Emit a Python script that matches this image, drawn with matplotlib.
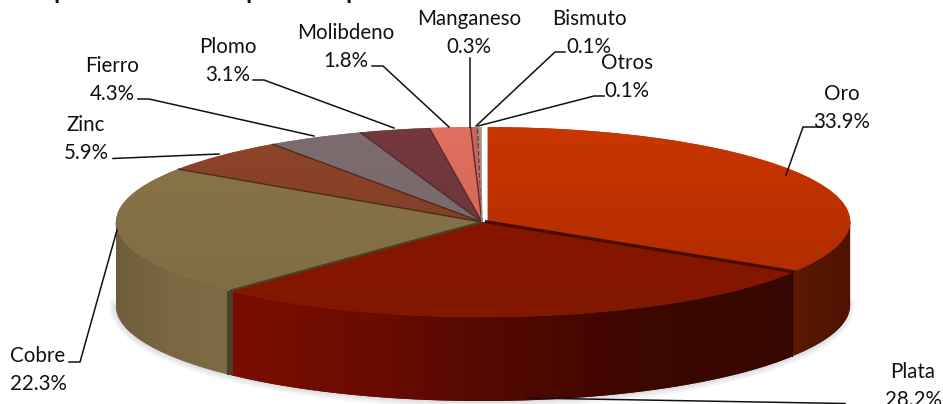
import numpy as np
import matplotlib
matplotlib.use("Agg")
import matplotlib.pyplot as plt
from matplotlib.colors import LinearSegmentedColormap
from matplotlib.patches import Polygon

categories = ["Oro", "Plata", "Cobre", "Zinc", "Fierro", "Plomo",
              "Molibdeno", "Manganeso", "Bismuto", "Otros"]
values = [33.9, 28.2, 22.3, 5.9, 4.3, 3.1, 1.8, 0.3, 0.1, 0.1]

W, H = 943, 404
CX, CY, A, B, DEPTH = 482, 222, 366, 95, 84

explode = [0.018, 0, 0, 0, 0, 0, 0, 0, 0, 0]
top_colors = [("#c93600", "#ab2a00"), ("#8c1200", "#821800"), ("#8a7549", "#7f6c45"),
              ("#8f452a", "#7a3826"), ("#7d6c6e", "#75686a"), ("#74393c", "#6a3538"),
              ("#e0705f", "#cc6254"), ("#c9665a", "#c26156"), ("#b09088", "#a89088"),
              ("#b8a498", "#b0a094")]
side_stops = {
    0: ["#5c1a00", "#531600", "#4d1400"],
    1: ["#7a0e00", "#6a0c00", "#4f0900", "#3c0700", "#360800"],
    2: ["#6f5d3a", "#7b6843", "#7f6c46"],
}
edge_colors = ["#4a0d00", "#4a4028", "#4e2a1c", "#4e2a24", "#4a3034", "#5a2a2a",
               "#5a2c30", "#6a3a44", "#a09088"]

fig = plt.figure(figsize=(W / 100, H / 100), dpi=100)
ax = fig.add_axes([0, 0, 1, 1])
wedges, _ = ax.pie(values, startangle=90, counterclock=False, explode=explode,
                   colors=[c[0] for c in top_colors], wedgeprops={"linewidth": 0})
wedges[0].set_radius(0.99)
ax.set_aspect("auto")
xl = (-CX / A, (W - CX) / A)
yl = ((CY - H) / B, CY / B)
d = DEPTH / B

# faint shadow under the front wall
arc = np.radians(np.linspace(180, 360, 300))
for lw_s in (9, 6, 3):
    ax.plot(np.cos(arc), np.sin(arc) - d, color="#7f8c99", lw=lw_s, alpha=0.09, zorder=0.5)

# side walls
for i, stops in side_stops.items():
    w = wedges[i]
    t1 = w.theta1 - (1.0 if i == 0 else 0)
    t = np.radians(np.linspace(t1, w.theta2, 300))
    t = t[np.sin(t) < 0]
    cx, cy = w.center
    x = cx + w.r * np.cos(t)
    y = cy + w.r * np.sin(t)
    pts = np.r_[np.c_[x, y], np.c_[x, y - d][::-1]]
    poly = Polygon(pts, closed=True, facecolor=stops[0], edgecolor="none", zorder=1)
    ax.add_patch(poly)
    cmap = LinearSegmentedColormap.from_list(f"s{i}", stops)
    im = ax.imshow(np.linspace(0, 1, 256)[None, :], cmap=cmap, aspect="auto", zorder=1.5,
                   extent=[x.min(), x.max(), y.min() - d, y.max()], interpolation="bilinear")
    im.set_clip_path(poly)
    # lighter rim between top face and side
    ax.plot(x, y, color=stops[0], lw=1.0, zorder=2.5, alpha=0.6)

# top faces
for i, w in enumerate(wedges):
    w.set_zorder(2)
    cmap = LinearSegmentedColormap.from_list(f"t{i}", top_colors[i])
    im = ax.imshow(np.linspace(0, 1, 64)[:, None], cmap=cmap, aspect="auto", zorder=3,
                   extent=[-1.1, 1.1, -1.05, 1.05], interpolation="bilinear")
    im.set_clip_path(w)

# slice boundaries on the top face
for i, c in enumerate(edge_colors):
    w = wedges[i]
    th = np.radians(w.theta1)
    if i == 0:
        # seam sits between the slightly pulled-out Oro slice and Plata
        ox, oy = w.center
        ax.plot([ox / 2, ox / 2 + np.cos(th)], [oy / 2, oy / 2 + np.sin(th)], color=c,
                lw=2.4, zorder=4, solid_capstyle="butt")
        continue
    ax.plot([0, np.cos(th)], [0, np.sin(th)], color=c,
            lw=1.6 if i < 2 else 1.0, zorder=4, ls="--" if i == 7 else "-",
            solid_capstyle="butt")

# cut face of Cobre next to Plata
th = np.radians(wedges[1].theta1)
ax.plot([np.cos(th)] * 2, [np.sin(th), np.sin(th) - d], color="#4b4029", lw=4.3,
        zorder=4, solid_capstyle="butt")
# seam between Plata and Oro walls
th = np.radians(wedges[0].theta1)
ax.plot([np.cos(th)] * 2, [np.sin(th), np.sin(th) - d], color="#2e0600", lw=0.8, zorder=4)

ax.set_xlim(xl)
ax.set_ylim(yl)

# overlay in pixel coordinates for labels and leader lines
ov = fig.add_axes([0, 0, 1, 1], facecolor="none")
ov.set_xlim(0, W)
ov.set_ylim(H, 0)
ov.axis("off")

label_pos = {"Oro": (842, 107), "Plata": (913, 385), "Cobre": (38, 369), "Zinc": (86, 138),
             "Fierro": (112, 79), "Plomo": (228, 60), "Molibdeno": (346, 46),
             "Manganeso": (469, 32), "Bismuto": (589, 32), "Otros": (627, 76)}
leaders = {"Oro": [(822, 127), (803, 127), (786, 175)],
           "Plata": [(845, 403.5), (527, 398)],
           "Cobre": [(69, 362), (80, 362), (117, 230)],
           "Zinc": [(113, 158.5), (219, 154)],
           "Fierro": [(138, 99), (149, 99), (314, 136)],
           "Plomo": [(253, 80), (264, 80), (394, 128)],
           "Molibdeno": [(372, 66), (383, 66), (449, 127)],
           "Manganeso": [(470, 58), (470, 127)],
           "Bismuto": [(565, 52), (555, 52), (476, 126)],
           "Otros": [(604, 96), (594, 96), (478, 126)]}

for name, val in zip(categories, values):
    x, y = label_pos[name]
    ov.text(x, y - 7, name, ha="center", va="baseline", fontsize=14.8,
            family="Lato", color="#111111")
    ov.text(x, y + 21, f"{val:.1f}%", ha="center", va="baseline", fontsize=14.8,
            family="Lato", color="#111111")
    pts = np.array(leaders[name])
    ov.plot(pts[:, 0], pts[:, 1], color="#111111", lw=1.1, solid_joinstyle="miter")

# clipped title at the very top: only descenders remain visible
for x in (60, 252, 352):
    ov.text(x, -2, "p", ha="center", va="baseline", fontsize=15, fontweight="bold",
            family="Open Sans", color="#111111")

fig.savefig("out.png", dpi=100)
